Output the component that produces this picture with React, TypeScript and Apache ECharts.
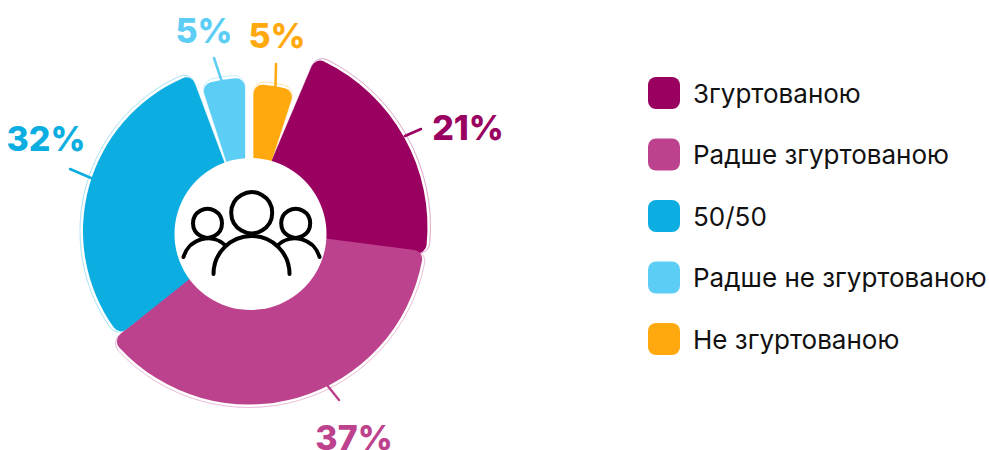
import React, { useEffect, useRef } from "react";
import * as echarts from "echarts";

const categories = ["Згуртованою", "Радше згуртованою", "50/50", "Радше не згуртованою", "Не згуртованою"];
const percentLabels = ["21%", "37%", "32%", "5%", "5%"];
// Slice shares as drawn in the picture (the 50/50 slice is drawn a little narrower than its label)
const drawnShares = [21, 37, 30, 5, 5];
const colors = ["#990060", "#BD428E", "#0CADE0", "#5CCDF5", "#FFA90F"];

// Layout per slice
const startAngles = [67, -7.4, -141.5, 108, 90];
const centers = [[243.5, 227], [249, 228.5], [250, 231], [245, 219], [253.5, 216.5]];
const radii = [184, 176, 167, 141, 132];
const labelPos = [[468, 127], [354, 437], [46, 138.5], [204, 30], [277, 35]];
const guideLines = [
  [[405, 136], [421, 129]],
  [[327, 385], [339, 400]],
  [[91, 178], [70, 169]],
  [[222, 82], [214, 58]],
  [[275.5, 86], [276, 64]],
];

const FONT = "Inter, 'Noto Sans', sans-serif";

function buildSeries() {
  const main: any[] = [];
  const halo: any[] = [];
  categories.forEach((name, i) => {
    const rest = {
      name: "rest" + i,
      value: 100 - drawnShares[i],
      itemStyle: { color: "transparent", borderWidth: 0 },
      label: { show: false },
      labelLine: { show: false },
    };
    main.push({
      type: "pie",
      name,
      center: centers[i],
      radius: [40, radii[i]],
      startAngle: startAngles[i],
      silent: true,
      z: 3,
      avoidLabelOverlap: false,
      itemStyle: { borderRadius: 9 },
      labelLayout: (p: any) =>
        p.dataIndex === 0
          ? {
              x: labelPos[i][0],
              y: labelPos[i][1],
              align: "center",
              verticalAlign: "middle",
              labelLinePoints: [guideLines[i][0], guideLines[i][1], guideLines[i][1]],
            }
          : {},
      data: [
        {
          name,
          value: drawnShares[i],
          itemStyle: { color: colors[i] },
          label: {
            show: true,
            position: "outside",
            formatter: percentLabels[i],
            color: colors[i],
            fontFamily: FONT,
            fontSize: 34,
            fontWeight: 800,
          },
          labelLine: {
            show: true,
            lineStyle: { color: colors[i], width: 2.5, cap: "round" },
          },
        },
        rest,
      ],
    });
    // thin outer outline
    halo.push({
      type: "pie",
      name: name + " outline",
      center: centers[i],
      radius: [40, radii[i] + 3],
      startAngle: startAngles[i],
      silent: true,
      z: 2,
      avoidLabelOverlap: false,
      itemStyle: { borderRadius: 11 },
      label: { show: false },
      labelLine: { show: false },
      data: [
        {
          name: "outline" + i,
          value: drawnShares[i],
          itemStyle: { color: "#fff", borderColor: colors[i], borderWidth: 1, opacity: 0.35 },
        },
        {
          name: "outline-rest" + i,
          value: 100 - drawnShares[i],
          itemStyle: { color: "transparent", borderWidth: 0 },
        },
      ],
    });
  });
  return [...main, ...halo];
}

const iconStroke = { stroke: "#000", lineWidth: 4, fill: "transparent", lineCap: "round" };
const rad = (d: number) => (d * Math.PI) / 180;

const graphicElements: any[] = [
  { type: "circle", z: 50, shape: { cx: 250.5, cy: 234, r: 76 }, style: { fill: "#fff" } },
  { type: "circle", z: 60, shape: { cx: 251.7, cy: 212.7, r: 20.5 }, style: iconStroke },
  { type: "circle", z: 60, shape: { cx: 207.5, cy: 223.3, r: 14.5 }, style: iconStroke },
  { type: "circle", z: 60, shape: { cx: 295.7, cy: 223.3, r: 14.5 }, style: iconStroke },
  { type: "arc", z: 60, shape: { cx: 251.5, cy: 274, r: 38, startAngle: rad(180), endAngle: rad(360), clockwise: true }, style: iconStroke },
  { type: "arc", z: 60, shape: { cx: 208, cy: 264, r: 25.5, startAngle: rad(196), endAngle: rad(313), clockwise: true }, style: iconStroke },
  { type: "arc", z: 60, shape: { cx: 295, cy: 264, r: 25.5, startAngle: rad(227), endAngle: rad(344), clockwise: true }, style: iconStroke },
];

export default function App() {
  const ref = useRef<HTMLDivElement>(null);
  useEffect(() => {
    const chart = echarts.init(ref.current!, null, { renderer: "svg" });
    chart.setOption({
      animation: false,
      backgroundColor: "#fff",
      color: colors,
      legend: {
        left: 643,
        top: 72,
        orient: "vertical",
        data: categories,
        selectedMode: false,
        icon: "roundRect",
        itemWidth: 32,
        itemHeight: 32,
        itemGap: 29.5,
        textStyle: { fontFamily: FONT, fontSize: 26, color: "#111", padding: [0, 0, 0, 8] },
      },
      series: buildSeries(),
      graphic: { elements: graphicElements },
    });
    return () => chart.dispose();
  }, []);
  return <div ref={ref} style={{ width: 989, height: 450, position: "fixed", left: 0, top: 0 }} />;
}
